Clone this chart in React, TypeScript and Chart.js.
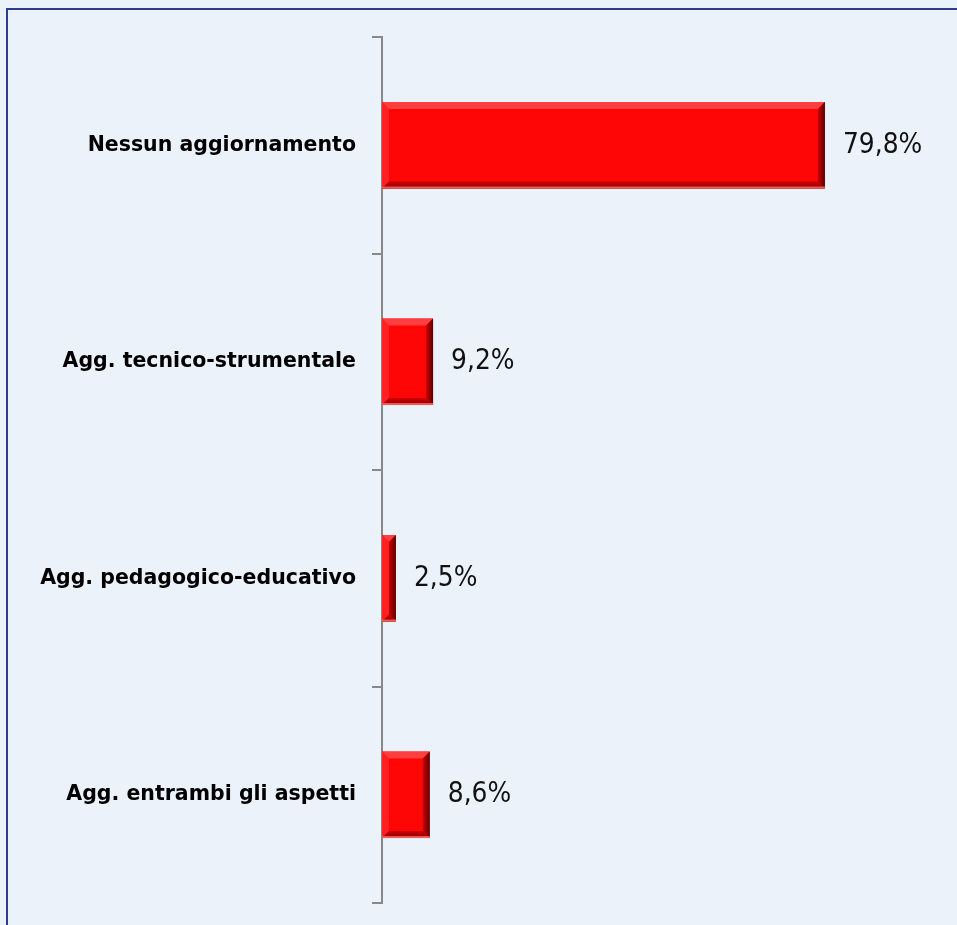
import React, { useEffect, useRef } from "react";
import { Chart, registerables } from "chart.js";

Chart.register(...registerables);

const categories = [
  "Nessun aggiornamento",
  "Agg. tecnico-strumentale",
  "Agg. pedagogico-educativo",
  "Agg. entrambi gli aspetti",
];
const values = [79.8, 9.2, 2.5, 8.6];
const valueLabels = ["79,8%", "9,2%", "2,5%", "8,6%"];

const VALUE_STRETCH = 1.15;

const bevelPlugin = {
  id: "bevel",
  afterDatasetsDraw(chart: any) {
    const ctx = chart.ctx;
    const meta = chart.getDatasetMeta(0);
    meta.data.forEach((bar: any) => {
      const left = bar.base;
      const right = bar.x;
      const top = bar.y - bar.height / 2;
      const bottom = bar.y + bar.height / 2;
      const b = Math.min(7, (right - left) / 2);
      ctx.save();
      // top highlight
      ctx.fillStyle = "rgba(255,70,70,0.9)";
      ctx.beginPath();
      ctx.moveTo(left, top);
      ctx.lineTo(right, top);
      ctx.lineTo(right - b, top + b);
      ctx.lineTo(left + b, top + b);
      ctx.closePath();
      ctx.fill();
      // left highlight
      ctx.fillStyle = "rgba(255,40,40,0.8)";
      ctx.beginPath();
      ctx.moveTo(left, top);
      ctx.lineTo(left + b, top + b);
      ctx.lineTo(left + b, bottom - b);
      ctx.lineTo(left, bottom);
      ctx.closePath();
      ctx.fill();
      // bottom shadow
      const gB = ctx.createLinearGradient(0, bottom - b, 0, bottom);
      gB.addColorStop(0, "rgba(200,0,0,0.9)");
      gB.addColorStop(1, "rgba(130,0,0,0.95)");
      ctx.fillStyle = gB;
      ctx.beginPath();
      ctx.moveTo(left, bottom);
      ctx.lineTo(right, bottom);
      ctx.lineTo(right - b, bottom - b);
      ctx.lineTo(left + b, bottom - b);
      ctx.closePath();
      ctx.fill();
      // right shadow
      const gR = ctx.createLinearGradient(right - b, 0, right, 0);
      gR.addColorStop(0, "rgba(200,0,0,0.9)");
      gR.addColorStop(1, "rgba(90,0,0,1)");
      ctx.fillStyle = gR;
      ctx.beginPath();
      ctx.moveTo(right, top);
      ctx.lineTo(right, bottom);
      ctx.lineTo(right - b, bottom - b);
      ctx.lineTo(right - b, top + b);
      ctx.closePath();
      ctx.fill();
      // thin bottom rim
      ctx.fillStyle = "rgba(240,90,90,1)";
      ctx.fillRect(left, bottom - 2, right - left, 2);
      ctx.restore();
    });
  },
};

const textPlugin = {
  id: "texts",
  afterDraw(chart: any) {
    const ctx = chart.ctx;
    const yScale = chart.scales.y;
    const meta = chart.getDatasetMeta(0);
    ctx.save();
    ctx.textBaseline = "middle";
    categories.forEach((c, i) => {
      const y = yScale.getPixelForValue(i);
      ctx.font = "bold 20.5px 'DejaVu Sans', sans-serif";
      ctx.fillStyle = "#000";
      ctx.textAlign = "right";
      ctx.fillText(c, 356, y);
    });
    meta.data.forEach((bar: any, i: number) => {
      ctx.save();
      ctx.translate(bar.x + 18, bar.y);
      ctx.scale(1, VALUE_STRETCH);
      ctx.font = "25px 'DejaVu Sans', sans-serif";
      ctx.fillStyle = "#111";
      ctx.textAlign = "left";
      ctx.fillText(valueLabels[i], 0, 0);
      ctx.restore();
    });
    ctx.restore();
  },
};

export default function App() {
  const ref = useRef<HTMLCanvasElement>(null);
  useEffect(() => {
    document.body.style.margin = "0";
    document.body.style.background = "#ECF2FA";
    const chart = new Chart(ref.current!, {
      type: "bar",
      data: {
        labels: categories,
        datasets: [
          {
            data: values,
            backgroundColor: "#FF0606",
            borderWidth: 0,
            barPercentage: 0.8,
            categoryPercentage: 0.5,
          },
        ],
      },
      options: {
        indexAxis: "y",
        animation: false,
        responsive: false,
        maintainAspectRatio: false,
        layout: { padding: { top: 37, bottom: 22, right: 20, left: 0 } },
        plugins: { legend: { display: false }, tooltip: { enabled: false } },
        scales: {
          x: { display: false, min: 0, max: 100 },
          y: {
            afterFit: (s: any) => {
              s.width = 382;
            },
            ticks: { display: false },
            grid: {
              drawOnChartArea: false,
              drawTicks: true,
              tickLength: 10,
              color: "#888888",
              lineWidth: 2,
            },
            border: { display: true, color: "#888888", width: 2 },
          },
        },
      },
      plugins: [bevelPlugin, textPlugin],
    });
    return () => chart.destroy();
  }, []);
  return (
    <div
      style={{
        position: "absolute",
        left: 0,
        top: 0,
        width: 957,
        height: 925,
        background: "#ECF2FA",
        overflow: "hidden",
      }}
    >
      <div
        style={{
          position: "absolute",
          left: 6,
          top: 8,
          width: 1200,
          height: 1200,
          borderLeft: "2px solid #2B3F8C",
          borderTop: "2px solid #2B3F8C",
        }}
      />
      <canvas
        ref={ref}
        width={957}
        height={925}
        style={{ position: "absolute", left: 0, top: 0, width: 957, height: 925 }}
      />
    </div>
  );
}
